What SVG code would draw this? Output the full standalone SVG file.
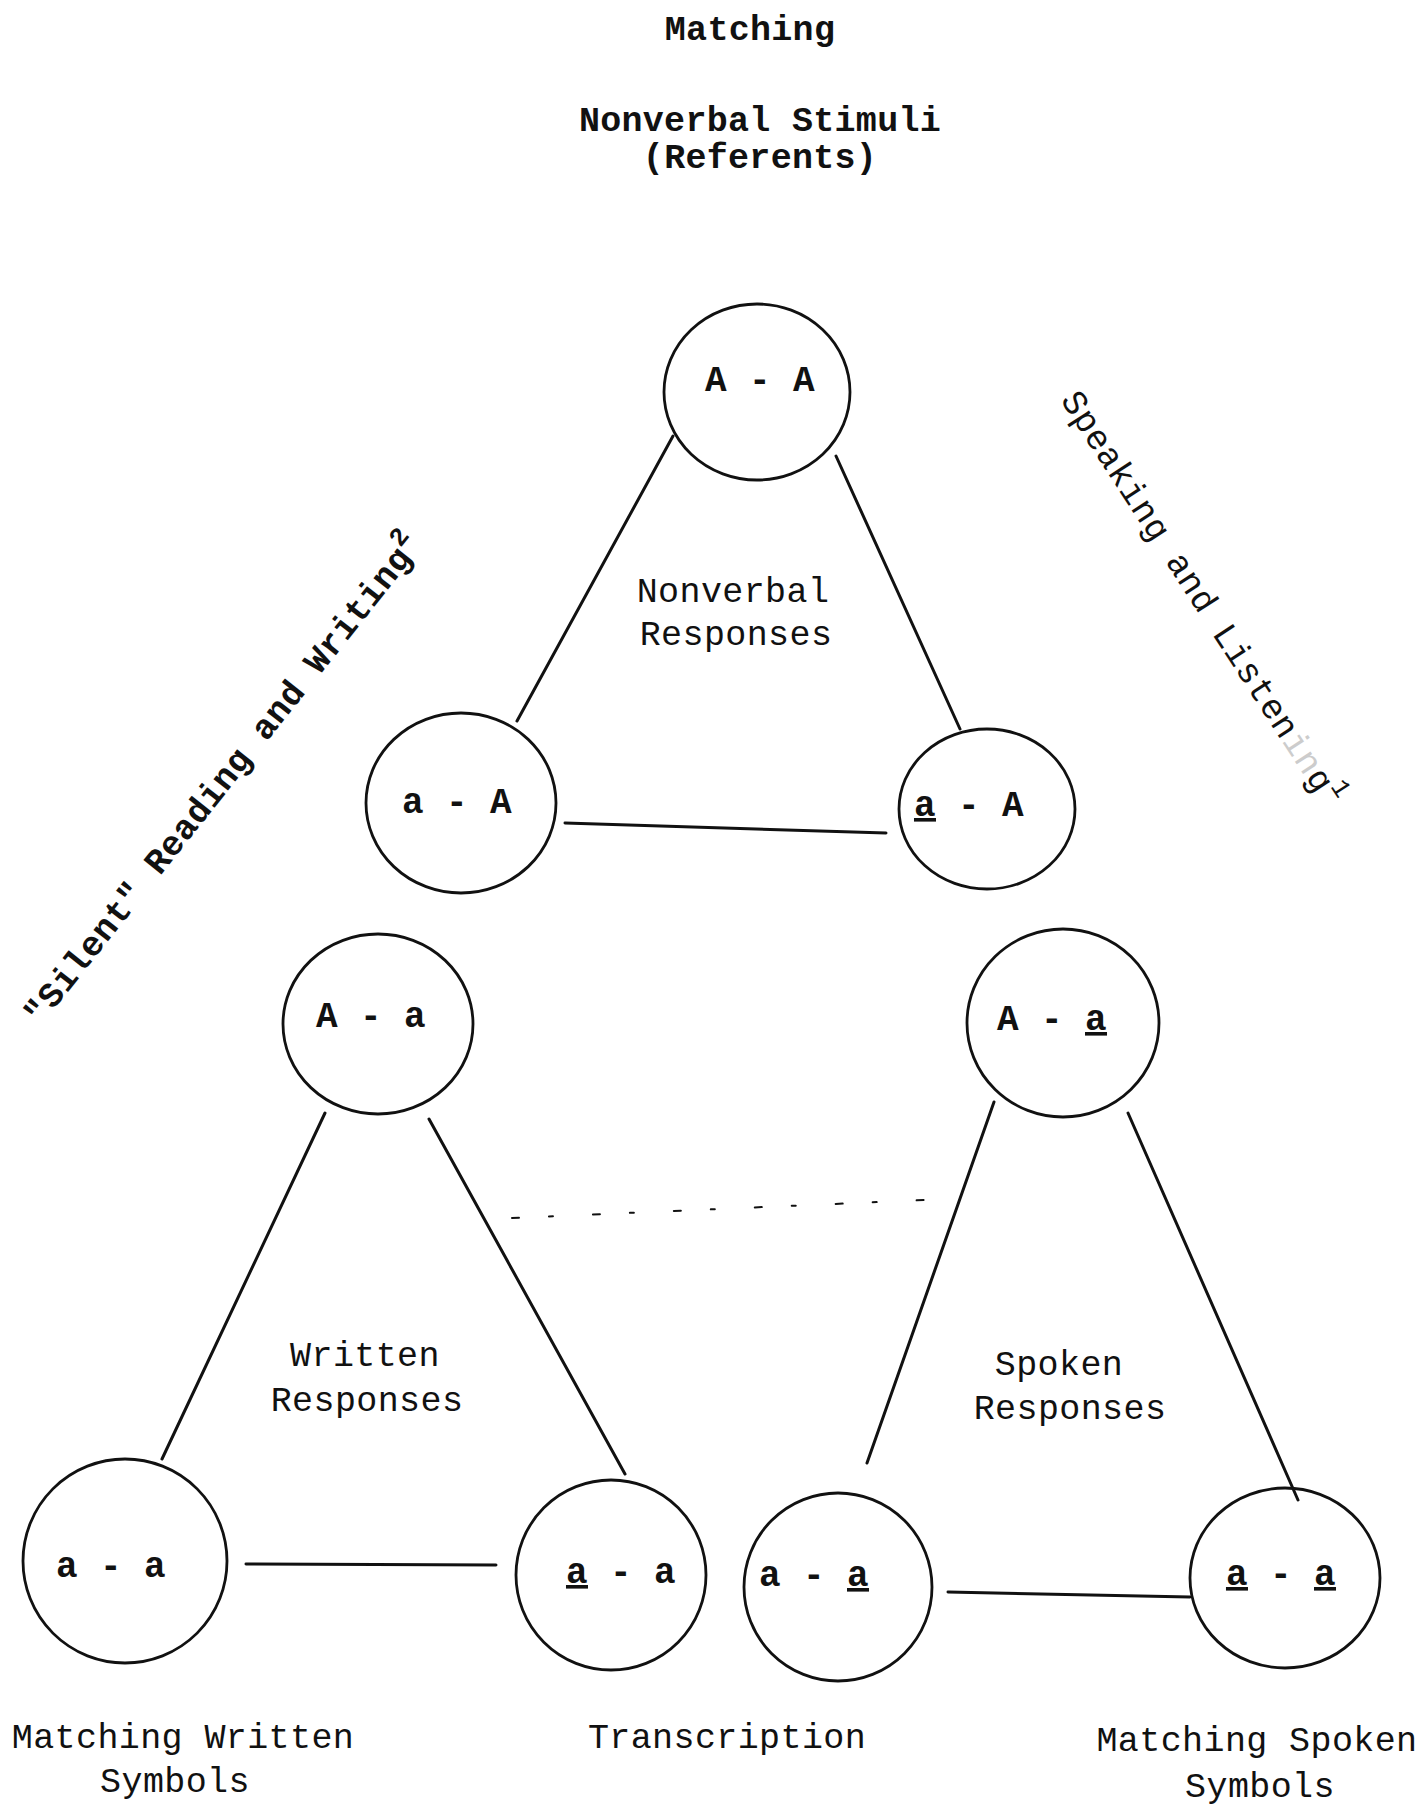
<svg xmlns="http://www.w3.org/2000/svg" width="1427" height="1809" viewBox="0 0 1427 1809">
<style>
text{font-family:"Liberation Mono","DejaVu Sans Mono",monospace;fill:#111}
.t{font-size:35px;font-weight:bold;letter-spacing:0.3px;text-anchor:middle}
.l{font-size:35px;letter-spacing:0.4px;text-anchor:middle}
.n{font-size:36px;font-weight:bold;letter-spacing:0.4px;text-anchor:middle}
.u{text-decoration:underline}
.node ellipse{fill:none;stroke:#111;stroke-width:2.8}
.conn line{stroke:#111;stroke-width:3;stroke-linecap:round}
</style>
<rect width="1427" height="1809" fill="#fff"/>
<g id="titles">
<text class="t" x="750" y="40">Matching</text>
<text class="t" x="760" y="131">Nonverbal Stimuli</text>
<text class="t" x="760" y="168">(Referents)</text>
</g>
<g id="side-labels">
<text transform="translate(40,1027) rotate(-51.5)" style="font-size:35px;font-weight:bold;letter-spacing:0.4px">"Silent" Reading and Writing<tspan dy="-16" style="font-size:26px">2</tspan></text>
<text transform="translate(1060,400) rotate(57)" style="font-size:35px;letter-spacing:0.4px">Speaking and Listen<tspan fill="#ccc">in</tspan>g<tspan dy="-16" style="font-size:26px">1</tspan></text>
</g>
<g id="connectors" class="conn">
<line x1="673" y1="436" x2="517" y2="721"/>
<line x1="836" y1="456" x2="960" y2="729"/>
<line x1="565" y1="823" x2="886" y2="833"/>
<line x1="325" y1="1113" x2="162" y2="1459"/>
<line x1="429" y1="1119" x2="625" y2="1474"/>
<line x1="246" y1="1564" x2="496" y2="1565"/>
<line x1="994" y1="1102" x2="867" y2="1463"/>
<line x1="1128" y1="1113" x2="1298" y2="1500"/>
<line x1="948" y1="1592" x2="1190" y2="1597"/>
<line x1="512" y1="1218" x2="925" y2="1200" style="stroke-width:2;stroke-dasharray:7 30 4 40"/>
</g>
<g id="node-AA" class="node"><ellipse cx="757" cy="392" rx="93" ry="88"/><text class="n" x="760" y="391">A - A</text></g>
<g id="node-aA-left" class="node"><ellipse cx="461" cy="803" rx="95" ry="90"/><text class="n" x="457" y="813">a - A</text></g>
<g id="node-aA-right" class="node"><ellipse cx="987" cy="809" rx="88" ry="80"/><text class="n" x="969" y="816"><tspan class="u">a</tspan> - A</text></g>
<g id="node-Aa-left" class="node"><ellipse cx="378" cy="1024" rx="95" ry="90"/><text class="n" x="371" y="1027">A - a</text></g>
<g id="node-Aa-right" class="node"><ellipse cx="1063" cy="1023" rx="96" ry="94"/><text class="n" x="1052" y="1030">A - <tspan class="u">a</tspan></text></g>
<g id="node-aa-1" class="node"><ellipse cx="125" cy="1561" rx="102" ry="102"/><text class="n" x="111" y="1577">a - a</text></g>
<g id="node-aa-2" class="node"><ellipse cx="611" cy="1575" rx="95" ry="95"/><text class="n" x="621" y="1583"><tspan class="u">a</tspan> - a</text></g>
<g id="node-aa-3" class="node"><ellipse cx="838" cy="1587" rx="94" ry="94"/><text class="n" x="814" y="1586">a - <tspan class="u">a</tspan></text></g>
<g id="node-aa-4" class="node"><ellipse cx="1285" cy="1578" rx="95" ry="90"/><text class="n" x="1281" y="1585"><tspan class="u">a</tspan> - <tspan class="u">a</tspan></text></g>
<g id="inner-labels">
<text class="l" x="733" y="602">Nonverbal</text>
<text class="l" x="736" y="645">Responses</text>
<text class="l" x="365" y="1366">Written</text>
<text class="l" x="367" y="1411">Responses</text>
<text class="l" x="1059" y="1375">Spoken</text>
<text class="l" x="1070" y="1419">Responses</text>
</g>
<g id="bottom-labels">
<text class="l" x="183" y="1748">Matching Written</text>
<text class="l" x="175" y="1792">Symbols</text>
<text class="l" x="727" y="1748">Transcription</text>
<text class="l" x="1257" y="1751">Matching Spoken</text>
<text class="l" x="1260" y="1797">Symbols</text>
</g>
</svg>
